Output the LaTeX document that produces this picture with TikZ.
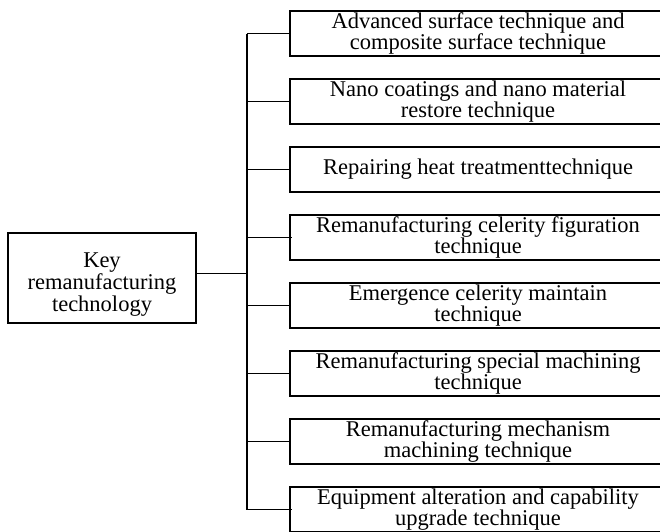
\documentclass[tikz,border=0pt]{standalone}
\usepackage{fontspec}
\setmainfont{Liberation Serif}
\usetikzlibrary{positioning}
\tikzstyle{techbox}=[draw,line width=1.1pt,minimum width=376pt,minimum height=45pt,inner sep=0pt,align=center,font=\fontsize{22.5}{19.5}\selectfont]
\tikzstyle{keybox}=[draw,line width=1.1pt,minimum width=188pt,minimum height=90pt,inner sep=0pt,align=center,font=\fontsize{22.5}{19.5}\selectfont]
\tikzstyle{branch} = [draw,line width=1.1pt]
\begin{document}
\begin{tikzpicture}[x=1pt,y=-1pt]

   \useasboundingbox (0,0) rectangle (660,531);
   \clip (0,0) rectangle (660,531);

   \node[keybox] (key) at (102,278) {\rule{0pt}{28pt}Key\\remanufacturing\\technology};

    \foreach \i/\name in {{1/Advanced surface technique and\\composite surface technique},
                          {2/Nano coatings and nano material\\restore technique},
                          {3/\raisebox{3pt}{Repairing heat treatmenttechnique}},
                          {4/Remanufacturing celerity figuration\\technique},
                          {5/Emergence celerity maintain\\technique},
                          {6/Remanufacturing special machining\\technique},
                          {7/Remanufacturing mechanism\\machining technique},
                          {8/Equipment alteration and capability\\upgrade technique}}
        \node[techbox] (t\i) at (478,{33.5+68*(\i-1)}) {\name};

   \coordinate (hub) at (247,273.5);

   % trunk and spine
   \path[branch] (key.east |- hub) -- (hub);
   \path[branch] (hub |- t1.west) -- (hub |- t8.west);

    \foreach \i/\ext in {1/0, 2/0, 3/0, 4/3, 5/0, 6/0, 7/0, 8/3}
            \path[branch] (hub |- t\i.west) -- ([xshift=\ext pt]t\i.west);

\end{tikzpicture}
\end{document}
